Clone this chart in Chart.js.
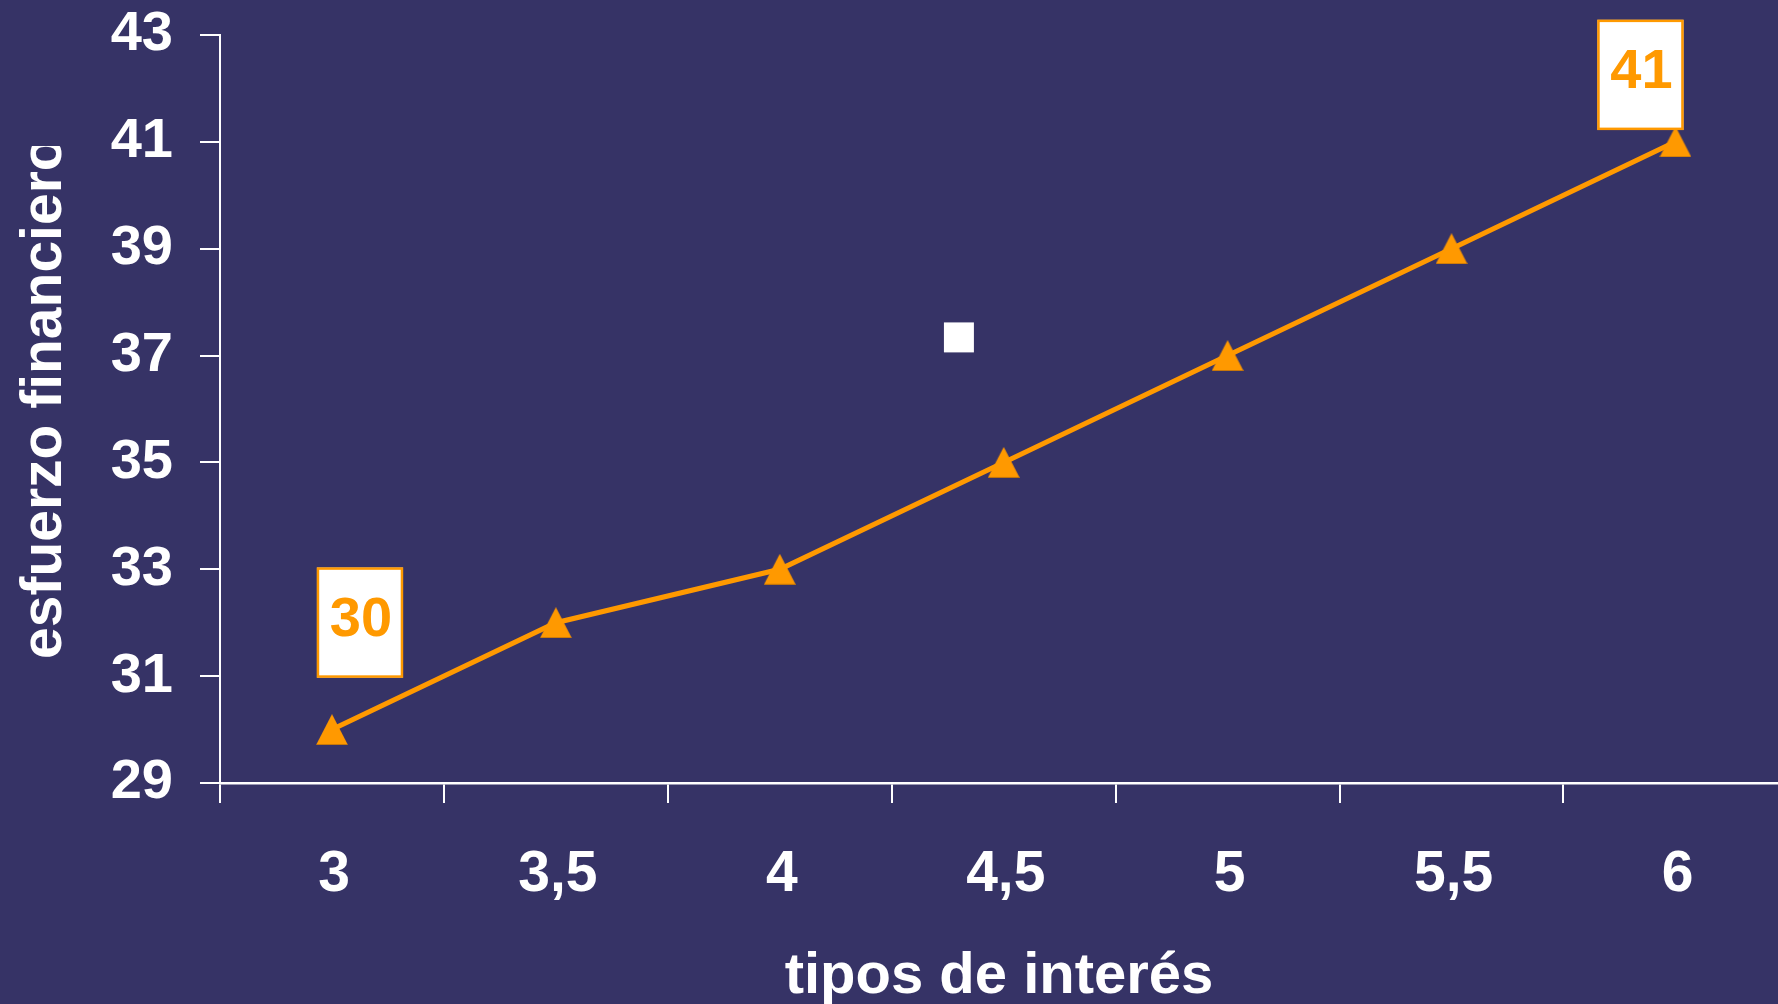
<!DOCTYPE html>
<html>
<head>
<meta charset="utf-8">
<script src="https://cdn.jsdelivr.net/npm/chart.js@4.4.1/dist/chart.umd.min.js"></script>
<style>
  html, body { margin: 0; padding: 0; background: #363366; overflow: hidden; }
  #wrap { width: 1778px; height: 1004px; position: relative; }
</style>
</head>
<body>
<div id="wrap"><canvas id="c"></canvas></div>
<script>
// ---- data ----
const categories = ['3', '3,5', '4', '4,5', '5', '5,5', '6'];
const rates = [3, 3.5, 4, 4.5, 5, 5.5, 6];
const effort = [30, 32, 33, 35, 37, 39, 41];
const markerX = [4.4];
const markerY = [37.34];
const yTicks = [29, 31, 33, 35, 37, 39, 41, 43];
const labelledPoints = [0, 6];
const xTitle = 'tipos de interés';
const yTitle = 'esfuerzo financiero';

const ORANGE = '#FF9900';
const FONT = '"Liberation Sans", Arial, sans-serif';
Chart.defaults.font.family = FONT;

// Excel-like triangle marker
const tri = document.createElement('canvas');
tri.width = 32; tri.height = 31;
const tc = tri.getContext('2d');
tc.fillStyle = ORANGE;
tc.beginPath(); tc.moveTo(16, 0); tc.lineTo(32, 31); tc.lineTo(0, 31); tc.closePath(); tc.fill();
tc.fillStyle = 'rgba(150,90,20,0.6)';
tc.fillRect(0, 30, 32, 1);

const yTitlePlugin = {
  id: 'yTitleClipped',
  afterDraw(chart) {
    const ctx = chart.ctx;
    ctx.save();
    ctx.beginPath(); ctx.rect(0, 146, 200, 900); ctx.clip();
    ctx.translate(61, 659);
    ctx.rotate(-Math.PI / 2);
    ctx.font = 'bold 57px ' + FONT;
    ctx.fillStyle = '#ffffff';
    ctx.textAlign = 'left';
    ctx.textBaseline = 'alphabetic';
    ctx.fillText(yTitle, 0, 0);
    ctx.restore();
  }
};

const valueBoxPlugin = {
  id: 'valueBoxes',
  afterDatasetsDraw(chart, args, opts) {
    const ctx = chart.ctx;
    const meta = chart.getDatasetMeta(0);
    labelledPoints.forEach((idx, k) => {
      const el = meta.data[idx];
      const [dx, dy] = opts.offsets[k];
      const cx = el.x + dx, cy = el.y + dy;
      const w = opts.w, h = opts.h;
      ctx.save();
      ctx.fillStyle = '#ffffff';
      ctx.fillRect(cx - w / 2, cy - h / 2, w, h);
      ctx.strokeStyle = ORANGE;
      ctx.lineWidth = 2.5;
      ctx.strokeRect(cx - w / 2 + 1, cy - h / 2 + 1, w - 2, h - 2);
      ctx.fillStyle = ORANGE;
      ctx.font = 'bold 56px ' + FONT;
      ctx.textAlign = 'center';
      ctx.textBaseline = 'middle';
      ctx.fillText(String(effort[idx]), cx + 1, cy - 2);
      ctx.restore();
    });
  }
};

new Chart(document.getElementById('c'), {
  type: 'line',
  data: {
    datasets: [
      {
        label: 'esfuerzo financiero',
        data: rates.map((r, i) => ({ x: r, y: effort[i] })),
        borderColor: ORANGE,
        borderWidth: 5,
        pointStyle: tri,
        pointRadius: 16,
        pointBackgroundColor: ORANGE,
        pointBorderColor: ORANGE,
        tension: 0,
        clip: false
      },
      {
        label: 'marker',
        data: markerX.map((x, i) => ({ x: x, y: markerY[i] })),
        showLine: false,
        pointStyle: 'rect',
        pointRadius: 21.2,
        pointBorderWidth: 0,
        pointBackgroundColor: '#ffffff',
        pointBorderColor: '#ffffff',
        clip: false
      }
    ]
  },
  options: {
    responsive: true,
    maintainAspectRatio: false,
    animation: false,
    events: [],
    layout: { autoPadding: false, padding: { top: 35, right: 0, bottom: 0, left: 0 } },
    plugins: {
      legend: { display: false },
      tooltip: { enabled: false },
      valueBoxes: { offsets: [[28, -107], [-35, -67]], w: 86, h: 110 }
    },
    scales: {
      x: {
        type: 'linear',
        min: rates[0] - 0.25,
        max: 6.229,
        afterBuildTicks: s => { s.ticks = rates.map(r => ({ value: r - 0.25 })); },
        afterFit: s => { s.height = 221; s.paddingLeft = 0; s.paddingRight = 0; s.paddingTop = 0; s.paddingBottom = 0; },
        ticks: {
          callback: (v, i) => categories[i],
          labelOffset: 114,
          padding: 38,
          color: '#ffffff',
          font: { size: 57, weight: 'bold' },
          maxRotation: 0,
          autoSkip: false
        },
        grid: { drawOnChartArea: false, drawTicks: true, tickLength: 20, color: '#ffffff', lineWidth: 2 },
        border: { display: true, color: '#ffffff', width: 2.5 },
        title: {
          display: true,
          text: xTitle,
          color: '#ffffff',
          font: { size: 58, weight: 'bold', lineHeight: 1 },
          padding: { top: 42, bottom: -2 }
        }
      },
      y: {
        type: 'linear',
        min: yTicks[0],
        max: yTicks[yTicks.length - 1],
        afterBuildTicks: s => { s.ticks = yTicks.map(v => ({ value: v })); },
        afterFit: s => { s.width = 220; s.paddingLeft = 0; s.paddingRight = 0; s.paddingTop = 0; s.paddingBottom = 0; },
        ticks: {
          padding: 27,
          color: '#ffffff',
          font: { size: 56, weight: 'bold' }
        },
        grid: { drawOnChartArea: false, drawTicks: true, tickLength: 20, color: '#ffffff', lineWidth: 2 },
        border: { display: true, color: '#ffffff', width: 2 }
      }
    }
  },
  plugins: [yTitlePlugin, valueBoxPlugin]
});
</script>
</body>
</html>
